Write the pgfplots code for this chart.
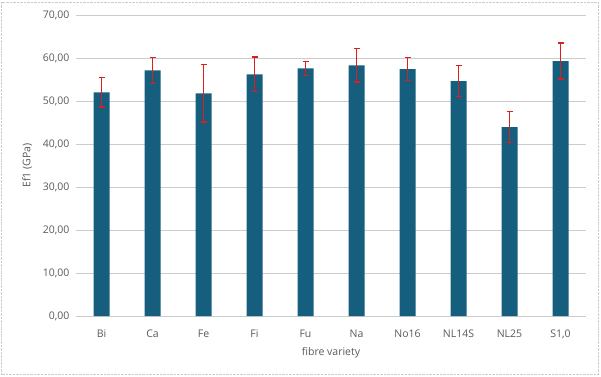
\documentclass[border=0pt]{standalone}
\usepackage{pgfplots}
\pgfplotsset{compat=1.18}
\usepackage{fontspec}
\setmainfont{Open Sans}
\definecolor{barc}{RGB}{22,94,126}
\definecolor{errc}{RGB}{220,30,30}
\definecolor{txt}{RGB}{89,89,89}
\pgfplotstableread{
x val
0 52.0
1 57.1
2 51.8
3 56.2
4 57.6
5 58.3
6 57.4
7 54.6
8 43.9
9 59.3
}\data
% error bar ends (mean - sd, mean + sd)
\pgfplotstableread{
x lo hi
0 48.6 55.4
1 54.1 60.1
2 45.1 58.5
3 52.2 60.2
4 56.0 59.2
5 54.4 62.2
6 54.7 60.1
7 51.0 58.2
8 40.3 47.5
9 55.1 63.5
}\errs
\begin{document}
\begin{tikzpicture}[x=1pt,y=1pt]
\useasboundingbox (0,0) rectangle (601,376);
\draw[gray!40, densely dotted] (1.5,1.5) rectangle (598,374);
\begin{axis}[
  at={(76pt,60pt)}, anchor=south west,
  scale only axis, width=510pt, height=301pt,
  xmin=-0.5, xmax=9.5, ymin=0, ymax=70,
  ytick={0,10,...,70},
  yticklabel={\pgfmathprintnumber[fixed, fixed zerofill, precision=2, use comma]{\tick}},
  /pgf/number format/assume math mode=true,
  xtick={0,...,9},
  xticklabels={Bi,Ca,Fe,Fi,Fu,Na,No16,NL14S,NL25,{S1,0}},
  ymajorgrids, grid style={gray!40, line width=0.8pt},
  axis line style={draw=none},
  major tick style={draw=none},
  tick label style={font=\fontsize{10.5}{12}\selectfont, text=txt},
  yticklabel style={xshift=-3pt},
  xticklabel style={yshift=-10pt},
  xlabel={fibre variety}, ylabel={Ef1 (GPa)},
  label style={font=\fontsize{10.5}{12}\selectfont, text=txt},
  xlabel style={yshift=-2pt},
  ylabel style={yshift=4pt},
  clip=false, unbounded coords=jump,
]
\addplot[ybar, bar width=16pt, fill=barc, draw=none]
  table[x=x, y=val] {\data};
\addplot[errc, line width=1.7pt, mark=none] coordinates {
 (0,48.6) (0,55.4) (0,nan)
 (1,54.1) (1,60.1) (1,nan)
 (2,45.1) (2,58.5) (2,nan)
 (3,52.2) (3,60.2) (3,nan)
 (4,56.0) (4,59.2) (4,nan)
 (5,54.4) (5,62.2) (5,nan)
 (6,54.7) (6,60.1) (6,nan)
 (7,51.0) (7,58.2) (7,nan)
 (8,40.3) (8,47.5) (8,nan)
 (9,55.1) (9,63.5)
};
\addplot[errc, only marks, mark=-, mark size=3pt, mark options={errc, line width=1.4pt}]
  table[x=x, y=lo] {\errs};
\addplot[errc, only marks, mark=-, mark size=3pt, mark options={errc, line width=1.4pt}]
  table[x=x, y=hi] {\errs};
\end{axis}
\end{tikzpicture}
\end{document}
